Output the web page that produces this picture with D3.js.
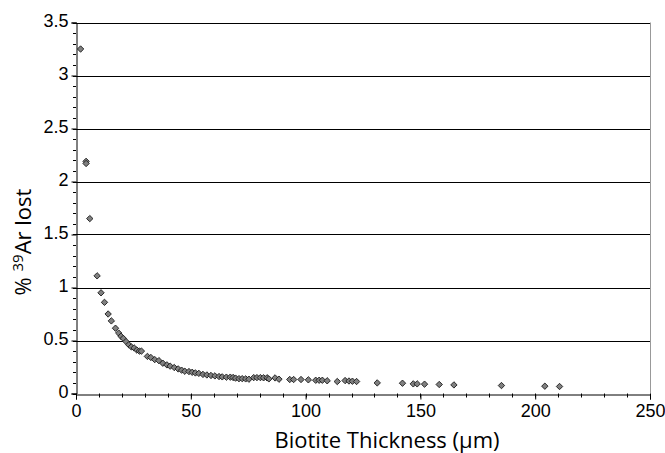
<!DOCTYPE html>
<html><head><meta charset="utf-8">
<script src="https://cdn.jsdelivr.net/npm/d3@7"></script>
<style>body{margin:0;background:#fff}svg{display:block}</style>
</head><body>
<script>
const thickness = [2.0,4.4,4.4,6.0,9.2,10.9,12.4,14.0,15.4,17.2,18.6,19.6,20.6,21.8,23.0,24.1,25.3,26.5,27.6,28.5,
31.1,32.6,34.3,36.1,37.8,39.6,41.0,42.8,44.5,46.0,47.4,49.2,50.6,52.0,53.5,55.3,57.0,58.8,60.5,62.3,63.7,65.5,67.2,68.4,69.5,71.0,72.4,73.9,75.3,
77.4,78.8,80.3,81.7,83.2,84.0,86.7,88.4,93.1,94.8,98.0,101.2,104.4,105.9,107.3,109.4,113.8,117.2,118.9,120.4,122.2,131.2,142.2,146.9,148.6,151.8,158.2,164.6,185.3,204.2,210.6];
const arLost = [3.25,2.19,2.17,1.65,1.11,0.95,0.86,0.75,0.685,0.616,0.57,0.54,0.52,0.49,0.46,0.44,0.43,0.41,0.40,0.40,
0.35,0.34,0.32,0.31,0.286,0.27,0.258,0.245,0.232,0.22,0.21,0.207,0.20,0.194,0.19,0.18,0.175,0.17,0.166,0.16,0.157,0.154,0.154,0.151,0.145,0.14,0.14,0.138,0.135,
0.15,0.15,0.15,0.148,0.148,0.138,0.147,0.135,0.132,0.132,0.132,0.129,0.125,0.125,0.125,0.12,0.113,0.122,0.118,0.116,0.113,0.10,0.097,0.091,0.091,0.088,0.085,0.081,0.075,0.069,0.066];
const xTicks = [0,50,100,150,200,250];
const yTicks = [0,0.5,1,1.5,2,2.5,3,3.5];
const yTickLabels = ["0","0.5","1","1.5","2","2.5","3","3.5"];

const W=665,H=453, L=76, R=650, T=22.5, B=393.5;
const svg = d3.select("body").append("svg").attr("width",W).attr("height",H);
const x = d3.scaleLinear().domain([0,250]).range([L,R]);
const y = d3.scaleLinear().domain([0,3.5]).range([B,T]);

// gridlines
svg.append("g").selectAll("line").data(yTicks.filter(d=>d>0)).join("line")
  .attr("x1",L).attr("x2",R).attr("y1",d=>Math.round(y(d))+0.5).attr("y2",d=>Math.round(y(d))+0.5)
  .attr("stroke","#000").attr("stroke-width",1);
// right border
svg.append("line").attr("x1",R+0.5).attr("x2",R+0.5).attr("y1",T).attr("y2",B).attr("stroke","#999");

// minor ticks
const xMinor = d3.range(0,251,10);
const yMinor = d3.range(0,36).map(i=>i/10);
svg.append("g").selectAll("line").data(xMinor).join("line")
  .attr("x1",d=>Math.round(x(d))+0.5).attr("x2",d=>Math.round(x(d))+0.5).attr("y1",B).attr("y2",B+4).attr("stroke","#000");
svg.append("g").selectAll("line").data(yMinor).join("line")
  .attr("y1",d=>Math.round(y(d))+0.5).attr("y2",d=>Math.round(y(d))+0.5).attr("x1",L-3).attr("x2",L).attr("stroke","#000");

const xAxis = svg.append("g").attr("transform",`translate(0,${Math.round(B)+0.5})`)
  .call(d3.axisBottom(x).tickValues(xTicks).tickSize(5).tickPadding(5).tickFormat(d3.format("d")));
const yAxis = svg.append("g").attr("transform",`translate(${L+0.5},0)`)
  .call(d3.axisLeft(y).tickValues(yTicks).tickSize(5).tickPadding(3).tickFormat((d,i)=>yTickLabels[i]));
[xAxis,yAxis].forEach(a=>{
  a.selectAll("text").attr("font-family","Liberation Sans, Arial, sans-serif").attr("font-size",18).attr("fill","#000");
  a.select(".domain").attr("stroke","#000");
  a.selectAll(".tick line").attr("stroke","#000");
});
yAxis.selectAll("text").attr("dy","0.2em");

// points
const sym = d3.symbol().type(d3.symbolDiamond2).size(26);
svg.append("g").selectAll("path").data(thickness.map((t,i)=>[t,arLost[i]])).join("path")
  .attr("d",sym).attr("transform",d=>`translate(${x(d[0])},${y(d[1])})`)
  .attr("fill","#808080").attr("stroke","#1a1a1a").attr("stroke-width",0.9);

// titles
svg.append("text").attr("x",387).attr("y",448).attr("text-anchor","middle")
  .attr("font-family","Open Sans, sans-serif").attr("font-size",22).text("Biotite Thickness (μm)");
const yl = svg.append("text").attr("transform","translate(31,242) rotate(-90)").attr("text-anchor","middle")
  .attr("font-family","Open Sans, sans-serif").attr("font-size",22);
yl.append("tspan").text("% ");
yl.append("tspan").attr("font-size",15).attr("dy",-8).text("39");
yl.append("tspan").attr("dy",8).text("Ar lost");
</script>
</body></html>
